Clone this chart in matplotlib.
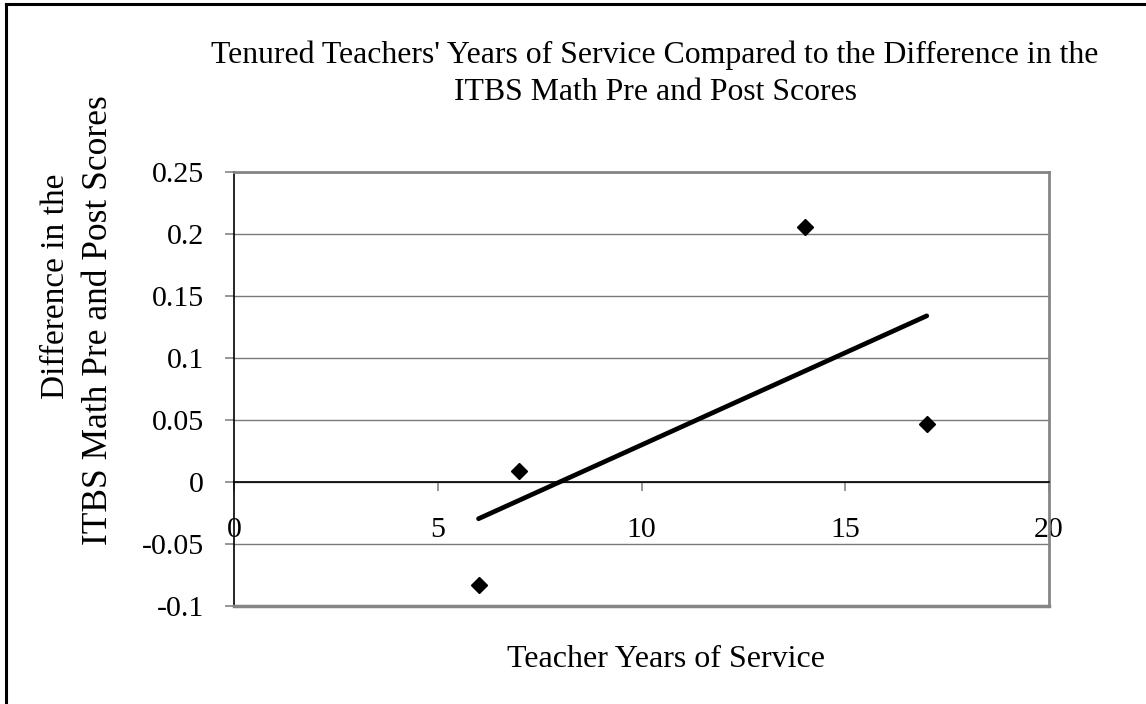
import numpy as np
import matplotlib.pyplot as plt
from matplotlib.lines import Line2D

# teacher years of service vs. change in ITBS math score
years = [6, 7, 14, 17]
score_diff = [-0.083, 0.009, 0.206, 0.047]

x_ticks = [0, 5, 10, 15, 20]
y_ticks = [-0.1, -0.05, 0, 0.05, 0.1, 0.15, 0.2, 0.25]
y_tick_labels = ['-0.1', '-0.05', '0', '0.05', '0.1', '0.15', '0.2', '0.25']

plt.rcParams['font.family'] = 'Liberation Serif'
plt.rcParams['axes.unicode_minus'] = False

W, H = 1146, 704
fig = plt.figure(figsize=(W / 100, H / 100), dpi=100)
ax = fig.add_axes([234 / W, 98 / H, 815 / W, 434 / H])

grey = '#858585'

ax.set_xlim(0, 20)
ax.set_ylim(-0.1, 0.25)
ax.set_xticks(x_ticks)
ax.set_xticklabels([str(t) for t in x_ticks])
ax.set_yticks(y_ticks)
ax.set_yticklabels(y_tick_labels)
ax.yaxis.grid(True, color='#7a7a7a', lw=1)
ax.set_axisbelow(True)

# box and axis lines
for side in ['top', 'right']:
    ax.spines[side].set_color(grey)
    ax.spines[side].set_linewidth(2)
ax.spines['left'].set_color('black')
ax.spines['left'].set_linewidth(1.2)
ax.spines['bottom'].set_position(('data', 0))
ax.spines['bottom'].set_color('black')
ax.spines['bottom'].set_linewidth(1.2)
ax.axhline(-0.1, color=grey, lw=2.5, clip_on=False, zorder=3)

ax.tick_params(axis='both', direction='out', length=6.5, width=1.2,
               color=grey, labelsize=21.5)
ax.tick_params(axis='x', pad=18.7)
ax.tick_params(axis='y', pad=15)

# linear trendline over the data range
slope, intercept = np.polyfit(years, score_diff, 1)
xs = np.array([min(years), max(years)])
ax.plot(xs, slope * xs + intercept, color='black', lw=3.4,
        solid_capstyle='round', zorder=4)

ax.plot(years, score_diff, 'D', color='black', ms=8.5, zorder=5)

# titles
fig.text(655 / W, 1 - 63 / H,
         "Tenured Teachers' Years of Service Compared to the Difference in the",
         ha='center', va='baseline', fontsize=22.9)
fig.text(655 / W, 1 - 100 / H, "ITBS Math Pre and Post Scores",
         ha='center', va='baseline', fontsize=22.9)
fig.text(666 / W, 1 - 667 / H, "Teacher Years of Service",
         ha='center', va='baseline', fontsize=23)
fig.text(64 / W, 1 - 286 / H, "Difference in the", rotation=90,
         rotation_mode='anchor', ha='center', va='baseline', fontsize=24)
fig.text(107 / W, 1 - 320 / H, "ITBS Math Pre and Post Scores", rotation=90,
         rotation_mode='anchor', ha='center', va='baseline', fontsize=25.5)

# outer frame (top and left edges)
fig.add_artist(Line2D([5.5 / W, 5.5 / W], [0, 1 - 4 / H], color='black', lw=2.2))
fig.add_artist(Line2D([5.5 / W, 1], [1 - 4 / H, 1 - 4 / H], color='black', lw=2.2))

fig.savefig('out.png', dpi=100)
